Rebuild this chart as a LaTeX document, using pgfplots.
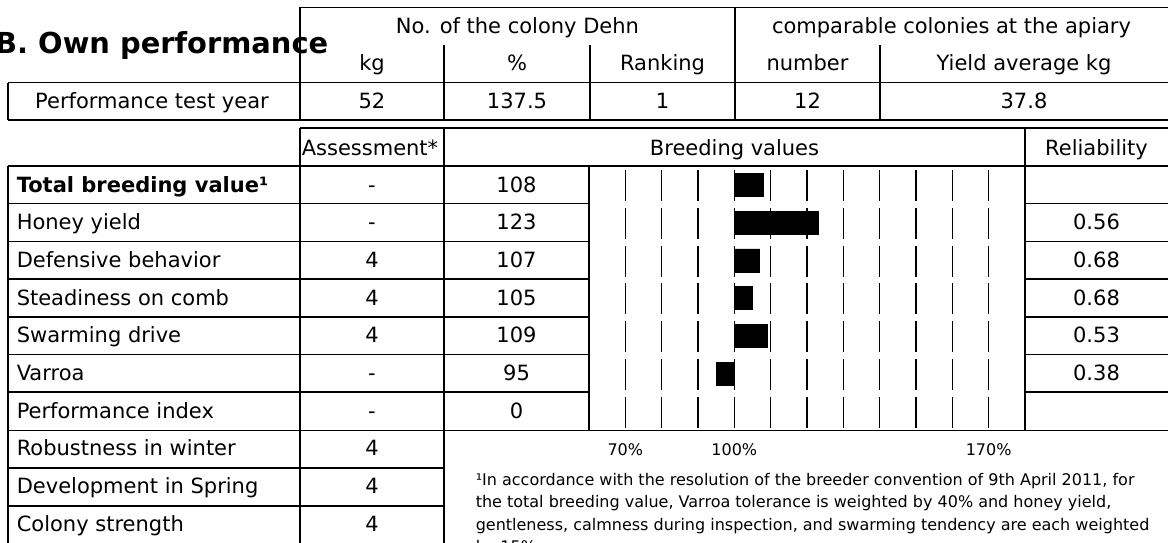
\documentclass[border=0pt]{standalone}
\usepackage{pgfplots}
\pgfplotsset{compat=1.18}
\usepackage{pgfplotstable}
\usepackage{fontspec}
\setmainfont{DejaVu Sans}
\newcommand\bodyfont{\fontsize{21}{25}\selectfont}
\newcommand\smallfont{\fontsize{16}{22.5}\selectfont}
\newcommand\titlefont{\fontsize{28.9}{32}\selectfont\bfseries}

% breeding values (row index, value in %); bars are drawn from 100%
\pgfplotstableread{
row value
0 108
1 123
2 107
3 105
4 109
5 95
6 0
}\bvtable

\begin{document}
\begin{tikzpicture}[x=1pt,y=-1pt,line width=1.5pt,every node/.style={inner sep=0pt}]
\useasboundingbox (0,0) rectangle (1168,542);
% ---------- title
\node[anchor=base east,font=\titlefont] at (329,53.3) {B. Own performance};
% ---------- top table
\draw (300,7.3) -- (1168,7.3);
\draw (8,82.7) -- (1168,82.7);
\draw (8,120) -- (1168,120);
\draw (8,82.7) -- (8,120);
\draw (300,7.3) -- (300,120);
\draw (735,7.3) -- (735,120);
\foreach \x in {444,590,880} \draw (\x,45) -- (\x,120);
\begin{scope}[font=\bodyfont]
\node[anchor=base] at (517.5,33) {No. of the colony Dehn};
\node[anchor=base] at (951.5,33) {comparable colonies at the apiary};
\node[anchor=base] at (372,70.7) {kg};
\node[anchor=base] at (517,70.7) {\%};
\node[anchor=base] at (662.5,70.7) {Ranking};
\node[anchor=base] at (807.5,70.7) {number};
\node[anchor=base] at (1024,70.7) {Yield average kg};
\node[anchor=base] at (152,108.3) {Performance test year};
\node[anchor=base] at (372,108.3) {52};
\node[anchor=base] at (517,108.3) {137.5};
\node[anchor=base] at (662.5,108.3) {1};
\node[anchor=base] at (807.5,108.3) {12};
\node[anchor=base] at (1024,108.3) {37.8};
\end{scope}
% ---------- lower table
\draw (300,128) -- (1168,128);
\draw (8,166) -- (1168,166);
\foreach \y in {203.7,241.4,279.1,316.8,354.5,392.2} {
  \draw (8,\y) -- (589,\y);
  \draw (1025,\y) -- (1168,\y);
}
\draw (8,430.4) -- (1168,430.4);
\draw (8,468.1) -- (444,468.1);
\draw (8,505.8) -- (444,505.8);
\draw (8,543.5) -- (444,543.5);
\draw (8,166) -- (8,543.5);
\draw (300,128) -- (300,543.5);
\draw (444,128) -- (444,543.5);
\draw (589,166) -- (589,430.4);
\draw (1025,128) -- (1025,430.4);
\begin{scope}[font=\bodyfont]
\node[anchor=base] at (370,155) {Assessment*};
\node[anchor=base] at (734.5,155) {Breeding values};
\node[anchor=base] at (1096.5,155) {Reliability};
\node[anchor=base west] at (16,192) {\bfseries Total breeding value¹};
\node[anchor=base] at (372,192) {-};
\node[anchor=base] at (516.5,192) {108};
\foreach \i/\lab/\as/\bv/\rel in {1/Honey yield/-/123/0.56,2/Defensive behavior/4/107/0.68,3/Steadiness on comb/4/105/0.68,4/Swarming drive/4/109/0.53,5/Varroa/-/95/0.38,6/Performance index/-/0/{}} {
  \pgfmathsetmacro\yy{192+37.7*\i}
  \node[anchor=base west] at (16,\yy) {\lab};
  \node[anchor=base] at (372,\yy) {\as};
  \node[anchor=base] at (516.5,\yy) {\bv};
  \node[anchor=base] at (1096.5,\yy) {\rel};
}
\foreach \i/\lab/\as in {7/Robustness in winter/4,8/Development in Spring/4,9/Colony strength/4} {
  \pgfmathsetmacro\yy{192+37.7*\i}
  \node[anchor=base west] at (16,\yy) {\lab};
  \node[anchor=base] at (372,\yy) {\as};
}
\end{scope}
% ---------- footnote
\begin{scope}[font=\smallfont]
\node[anchor=base west] at (475,485) {¹In accordance with the resolution of the breeder convention of 9th April 2011, for};
\node[anchor=base west] at (475,507.5) {the total breeding value, Varroa tolerance is weighted by 40\% and honey yield,};
\node[anchor=base west] at (475,530) {gentleness, calmness during inspection, and swarming tendency are each weighted};
\node[anchor=base west] at (475,552.5) {by 15\%.};
\end{scope}
% ---------- breeding value bars
\begin{axis}[
  at={(589pt,-166pt)}, anchor=north west,
  scale only axis, width=436pt, height=264.4pt,
  xmin=-40, xmax=80, ymin=-0.5, ymax=6.5, y dir=reverse,
  axis line style={draw=none}, ytick=\empty,
  xtick={-30,0,70}, xticklabels={70\%,100\%,170\%},
  major tick length=0pt,
  xticklabel style={font=\smallfont, anchor=base, yshift=-24.6pt},
]
\pgfplotsinvokeforeach{0,...,6}{
  \draw[line width=1.3pt] \foreach \x in {-30,-20,...,70} {(axis cs:\x,#1) ++(0pt,14.9pt) -- ++(0pt,-31.1pt)};
}
\addplot[xbar, bar width=23pt, bar shift=0pt, fill=black, draw=black, line width=0.6pt,
  restrict x to domain=-40:80]
  table[x expr=\thisrow{value}-100, y=row] {\bvtable};
\end{axis}
\end{tikzpicture}
\end{document}
